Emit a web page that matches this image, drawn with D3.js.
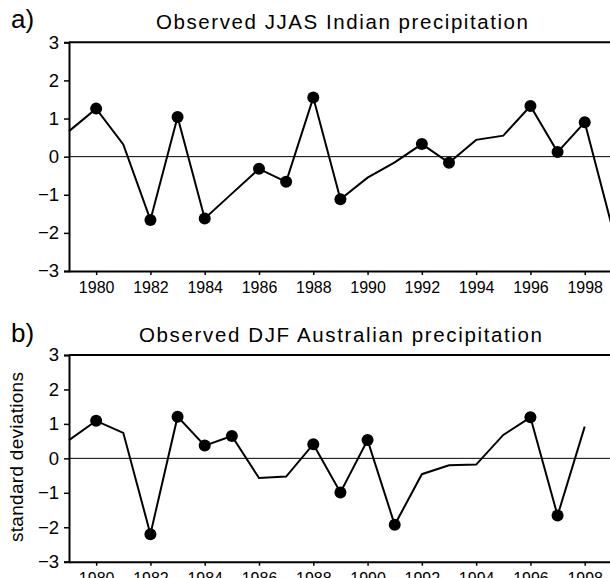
<!DOCTYPE html>
<html>
<head>
<meta charset="utf-8">
<script src="https://cdn.jsdelivr.net/npm/d3@7"></script>
<style>
  body { margin: 0; background: #fff; overflow: hidden; }
  svg { display: block; }
  text { font-family: "Liberation Sans", Arial, sans-serif; fill: #000; }
</style>
</head>
<body>
<div id="chart"></div>
<script>
// years shared by both panels
var yearsA = d3.range(1979, 2000);   // 1979..1999
var yearsB = d3.range(1979, 1999);   // 1979..1998

// a) JJAS Indian precipitation (standard deviations)
var indianVals = [0.67, 1.26, 0.32, -1.66, 1.04, -1.62, -0.97, -0.32, -0.66, 1.55,
                  -1.12, -0.55, -0.15, 0.33, -0.16, 0.44, 0.55, 1.33, 0.12, 0.90, -1.82];
var indianMarked = [1980, 1982, 1983, 1984, 1986, 1987, 1988, 1989, 1992, 1993, 1996, 1997, 1998];

// b) DJF Australian precipitation
var ausVals = [0.53, 1.09, 0.74, -2.2, 1.21, 0.37, 0.65, -0.57, -0.53, 0.41,
               -0.99, 0.53, -1.93, -0.46, -0.2, -0.18, 0.68, 1.19, -1.66, 0.92];
var ausMarked = [1980, 1982, 1983, 1984, 1985, 1988, 1989, 1990, 1991, 1996, 1997];

var xTicks = d3.range(1980, 2000, 2);
var yTicks = [-3, -2, -1, 0, 1, 2, 3];

var width = 610, height = 578;

var svg = d3.select("#chart").append("svg")
  .attr("width", width)
  .attr("height", height);

// plot runs past the right edge of the picture (cropped, as in the original)
var x = d3.scaleLinear().domain([1979, 2000]).range([69, 639]);

function panel(opts) {
  var y = d3.scaleLinear().domain([-3, 3]).range([opts.bottom, opts.top]);
  var g = svg.append("g");

  // frame: top border
  g.append("line")
    .attr("x1", x(1979)).attr("x2", x(2000))
    .attr("y1", y(3)).attr("y2", y(3))
    .attr("stroke", "#000").attr("stroke-width", 2);

  // zero line
  g.append("line")
    .attr("x1", x(1979)).attr("x2", x(2000))
    .attr("y1", y(0)).attr("y2", y(0))
    .attr("stroke", "#000").attr("stroke-width", 1);

  var yAxis = g.append("g")
    .attr("transform", "translate(" + x(1979) + ",0)")
    .call(d3.axisLeft(y).tickValues(yTicks).tickSize(5).tickPadding(5)
      .tickFormat(function(d) { return d < 0 ? "\u2212" + Math.abs(d) : d; }));
  yAxis.select(".domain").attr("stroke-width", 2);
  yAxis.selectAll(".tick line").attr("stroke-width", 1.5);
  yAxis.selectAll("text").attr("font-size", 18.5).attr("fill", "#000");

  var xAxis = g.append("g")
    .attr("transform", "translate(0," + y(-3) + ")")
    .call(d3.axisBottom(x).tickValues(xTicks).tickSize(4).tickPadding(7)
      .tickSizeOuter(0).tickFormat(d3.format("d")));
  xAxis.select(".domain").attr("stroke-width", 2);
  xAxis.selectAll(".tick line").attr("stroke-width", 1.5);
  xAxis.selectAll("text").attr("font-size", 16).attr("fill", "#000");

  var pts = opts.years.map(function(yr, i) { return {year: yr, v: opts.vals[i]}; });

  var line = d3.line()
    .x(function(d) { return x(d.year); })
    .y(function(d) { return y(d.v); });

  g.append("path")
    .datum(pts)
    .attr("d", line)
    .attr("fill", "none")
    .attr("stroke", "#000")
    .attr("stroke-width", 2)
    .attr("stroke-linejoin", "miter");

  g.selectAll("circle")
    .data(pts.filter(function(d) { return opts.marked.indexOf(d.year) >= 0; }))
    .enter().append("circle")
    .attr("cx", function(d) { return x(d.year); })
    .attr("cy", function(d) { return y(d.v); })
    .attr("r", 6)
    .attr("fill", "#000");

  // panel letter and title
  svg.append("text")
    .attr("x", 11).attr("y", opts.letterY)
    .attr("font-size", 26)
    .text(opts.letter);

  svg.append("text")
    .attr("x", opts.titleX).attr("y", opts.titleY)
    .attr("font-size", 20.5)
    .attr("textLength", opts.titleLen)
    .attr("lengthAdjust", "spacing")
    .text(opts.title);
}

panel({
  top: 42.3, bottom: 271,
  years: yearsA, vals: indianVals, marked: indianMarked,
  letter: "a)", letterY: 27.5,
  title: "Observed JJAS Indian precipitation",
  titleX: 156, titleY: 29, titleLen: 372
});

panel({
  top: 355, bottom: 561.7,
  years: yearsB, vals: ausVals, marked: ausMarked,
  letter: "b)", letterY: 342,
  title: "Observed DJF Australian precipitation",
  titleX: 139, titleY: 342, titleLen: 403
});

// y-axis label, panel b only
svg.append("text")
  .attr("transform", "translate(23,457) rotate(-90)")
  .attr("text-anchor", "middle")
  .attr("font-size", 19)
  .attr("textLength", 170)
  .attr("lengthAdjust", "spacing")
  .text("standard deviations");
</script>
</body>
</html>
